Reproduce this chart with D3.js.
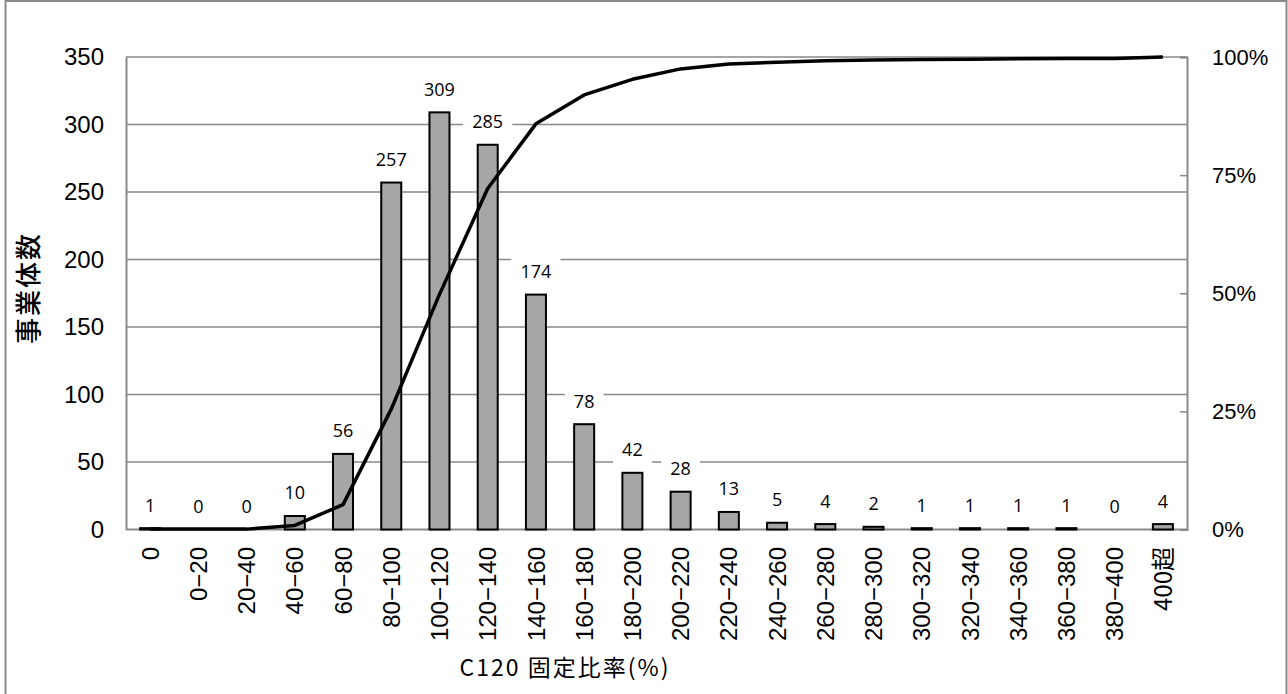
<!DOCTYPE html>
<html><head><meta charset="utf-8">
<script src="https://cdn.jsdelivr.net/npm/d3@7"></script>
<style>
html,body{margin:0;padding:0;background:#fff;}
svg{display:block;}
</style>
</head><body>
<svg id="chart" width="1288" height="694"></svg>
<script>
const categories = ["0","0\u221220","20\u221240","40\u221260","60\u221280","80\u2212100","100\u2212120","120\u2212140","140\u2212160","160\u2212180","180\u2212200","200\u2212220","220\u2212240","240\u2212260","260\u2212280","280\u2212300","300\u2212320","320\u2212340","340\u2212360","360\u2212380","380\u2212400","400超"];
const counts = [1,0,0,10,56,257,309,285,174,78,42,28,13,5,4,2,1,1,1,1,0,4];
const cumulativePct = [0.08,0.08,0.08,0.86,5.27,25.47,49.76,72.17,85.85,91.98,95.28,97.48,98.51,98.90,99.21,99.37,99.45,99.53,99.61,99.69,99.69,100];
const leftTicks = [0,50,100,150,200,250,300,350];
const rightTicks = [0,25,50,75,100];
const yTitle = "事業体数";
const xTitle = "C120 固定比率(%)";

const svg = d3.select("#chart");
const L = 126, R = 1187, T = 57, B = 529.5;
const gridColor = "#898989";
const latin = "'Liberation Sans', Arial, sans-serif";
const cjk = "'Noto Sans CJK JP', 'Noto Sans', sans-serif";

svg.append("rect").attr("x",0).attr("y",0).attr("width",1288).attr("height",694).attr("fill","#fff");
svg.append("rect").attr("x",5.5).attr("y",1).attr("width",1281).attr("height",720)
  .attr("fill","none").attr("stroke",gridColor).attr("stroke-width",2);

const x = d3.scaleBand().domain(categories).range([L,R]).paddingInner(0.585).paddingOuter(0.2925);
const y = d3.scaleLinear().domain([0,350]).range([B,T]);
const y2 = d3.scaleLinear().domain([0,100]).range([B,T]);

// gridlines
svg.append("g").selectAll("line").data(leftTicks.filter(d=>d>0)).join("line")
  .attr("x1",L).attr("x2",R).attr("y1",d=>y(d)).attr("y2",d=>y(d))
  .attr("stroke",gridColor).attr("stroke-width",1.5);

// left axis
const gl = svg.append("g").attr("transform",`translate(${L},0)`)
  .call(d3.axisLeft(y).tickValues(leftTicks).tickSize(0).tickPadding(22));
gl.select(".domain").attr("stroke",gridColor).attr("stroke-width",2);
gl.selectAll("text").attr("font-family",latin).attr("font-size",24).attr("fill","#000");

// right axis
const gr = svg.append("g").attr("transform",`translate(${R},0)`)
  .call(d3.axisRight(y2).tickValues(rightTicks).tickSize(-7).tickPadding(25).tickFormat(d=>d+"%"));
gr.select(".domain").attr("stroke",gridColor).attr("stroke-width",2);
gr.selectAll(".tick line").attr("stroke",gridColor).attr("stroke-width",1.5);
gr.selectAll("text").attr("font-family",latin).attr("font-size",22).attr("fill","#000");

// bottom axis line
svg.append("line").attr("x1",L).attr("x2",R).attr("y1",B).attr("y2",B)
  .attr("stroke",gridColor).attr("stroke-width",2);

// bars
svg.append("g").selectAll("rect").data(categories.map((c,i)=>({c,v:counts[i]})).filter(d=>d.v>0)).join("rect")
  .attr("x",d=>x(d.c)).attr("width",x.bandwidth())
  .attr("y",d=>y(d.v)).attr("height",d=>B-y(d.v))
  .attr("fill","#a6a6a6").attr("stroke","#000").attr("stroke-width",2);

// cumulative line
const line = d3.line().x((d,i)=>x(categories[i])+x.bandwidth()/2).y(d=>y2(d));
svg.append("path").datum(cumulativePct).attr("d",line)
  .attr("fill","none").attr("stroke","#000").attr("stroke-width",3.5).attr("stroke-linejoin","round");

// data labels
const lg = svg.append("g").selectAll("g").data(categories.map((c,i)=>({c,v:counts[i]}))).join("g")
  .attr("transform",d=>`translate(${x(d.c)+x.bandwidth()/2},${y(d.v)-23})`);
lg.append("rect").attr("x",d=>-(String(d.v).length*5.2+9)).attr("width",d=>String(d.v).length*10.4+18)
  .attr("y",-15).attr("height",30).attr("fill","#fff");
lg.append("text").attr("text-anchor","middle").attr("dy","0.36em")
  .attr("font-family","'Open Sans', sans-serif").attr("font-size",18).attr("fill","#000")
  .text(d=>d.v);

// x labels
svg.append("g").selectAll("text").data(categories).join("text")
  .attr("transform",d=>`translate(${x(d)+x.bandwidth()/2},547) rotate(-90)`)
  .attr("text-anchor","end").attr("dy","0.36em")
  .attr("font-family",d=>d.includes("超")?cjk:latin).attr("font-size",24).attr("fill","#000")
  .text(d=>d);

// titles
svg.append("text").attr("transform","translate(29,288) rotate(-90)")
  .attr("text-anchor","middle").attr("dy","0.36em").attr("letter-spacing",2)
  .attr("font-family",cjk).attr("font-weight",500).attr("font-size",26).attr("fill","#000").text(yTitle);
svg.append("text").attr("x",565).attr("y",668)
  .attr("text-anchor","middle").attr("dy","0.36em").attr("letter-spacing",2)
  .attr("font-family",cjk).attr("font-size",23).attr("fill","#000").text(xTitle);
</script>
</body></html>
